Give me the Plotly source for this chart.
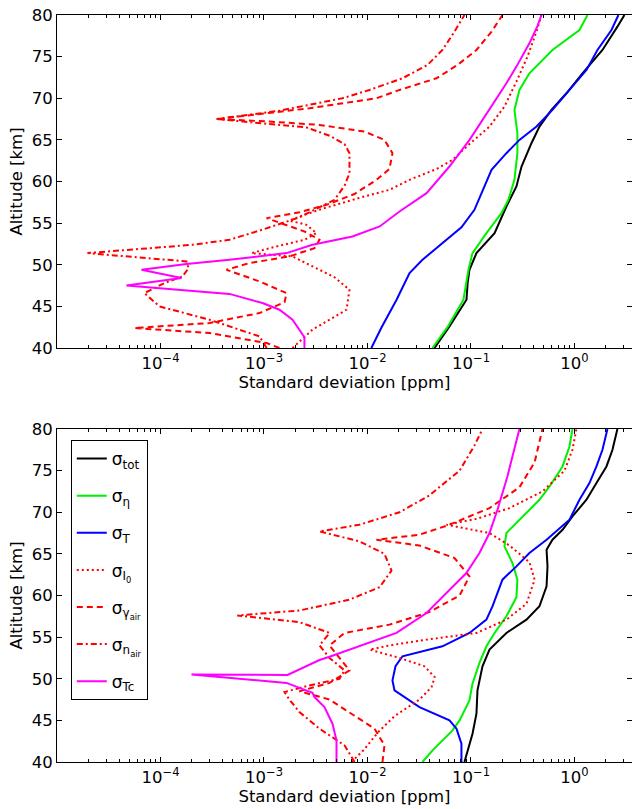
import plotly.graph_objects as go

# ---------------- TOP PANEL ----------------
top_tot_alt = [40, 42.6, 45.8, 47.9, 49.4, 51.4, 53.8, 57.0, 59.4, 61.8, 64.6, 66.6, 68.6, 70.6, 73.0, 75.8, 78.6, 80]
top_tot = [0.0444, 0.062, 0.0905, 0.093, 0.0967, 0.113, 0.169, 0.220, 0.275, 0.308, 0.384, 0.459, 0.599, 0.837, 1.195, 1.865, 2.60, 3.04]

top_eta_alt = [40, 42.6, 45.8, 49.4, 51.4, 53.8, 56.2, 57.8, 60.2, 63.4, 65.8, 68.6, 71.0, 73.0, 75.8, 78.2, 80]
top_eta = [0.0425, 0.060, 0.0846, 0.0946, 0.1034, 0.141, 0.197, 0.230, 0.263, 0.281, 0.281, 0.263, 0.294, 0.367, 0.613, 1.118, 1.335]

top_T_alt = [40, 42.5, 45.8, 49.0, 50.6, 53.0, 54.5, 56.6, 59.3, 61.4, 63.4, 65.0, 66.6, 68.6, 71.0, 73.4, 75.8, 78.2, 80]
top_T = [0.0109, 0.0137, 0.0191, 0.0255, 0.0340, 0.0580, 0.0809, 0.108, 0.135, 0.158, 0.220, 0.294, 0.430, 0.613, 0.895, 1.306, 1.668, 2.278, 2.66]

top_I0_alt = [40, 42.2, 44.6, 47.0, 48.5, 50.0, 51.0, 51.4, 52.2, 53.0, 53.8, 54.8, 55.3, 56.0, 56.8, 58.2, 59.0, 60.2, 61.5, 62.6, 64.5, 66.6, 69.0, 72.0, 75.0, 78.0, 80]
top_I0 = [0.001886, 0.00294, 0.00627, 0.0067, 0.0048, 0.00275, 0.001886, 0.000757, 0.00132, 0.00246, 0.00322, 0.00257, 0.00176, 0.00246, 0.00384, 0.0093, 0.0163, 0.0255, 0.0464, 0.0663, 0.0967, 0.151, 0.2107, 0.275, 0.3515, 0.4295, 0.48]

top_gam_alt = [40, 40.6, 41.8, 42.4, 43.0, 44.2, 45.5, 46.6, 48.0, 49.4, 50.2, 51.0, 52.0, 53.0, 54.0, 55.0, 55.6, 56.3, 57.2, 58.5, 60.2, 61.5, 63.4, 65.0, 66.0, 66.8, 67.2, 67.5, 68.2, 68.8, 70.0, 71.0, 72.4, 74.0, 75.8, 78.0, 80]
top_gam = [0.00141, 0.00106, 0.000297, 0.0000561, 0.000297, 0.000904, 0.00158, 0.00165, 0.000904, 0.000434, 0.000724, 0.00176, 0.00308, 0.00344, 0.00246, 0.00141, 0.00106, 0.0022, 0.00402, 0.00749, 0.01222, 0.0163, 0.01744, 0.0146, 0.00935, 0.00344, 0.00113, 0.000348, 0.00113, 0.00275, 0.01222, 0.0204, 0.0464, 0.0741, 0.113, 0.158, 0.2015]

top_nair_alt = [40, 41.4, 43.4, 45.0, 46.6, 47.8, 48.6, 49.6, 50.4, 51.4, 52.4, 53.0, 54.1, 55.7, 57.8, 59.5, 61.0, 63.4, 64.5, 65.5, 66.5, 67.0, 67.5, 68.5, 69.2, 70.0, 71.0, 72.4, 74.0, 75.8, 78.0, 80]
top_nair = [0.00106, 0.000904, 0.000297, 0.0000978, 0.000070, 0.000109, 0.000163, 0.000187, 0.000178, 0.0000197, 0.000204, 0.000464, 0.000904, 0.0022, 0.0048, 0.006, 0.0067, 0.0067, 0.006, 0.0043, 0.00257, 0.000904, 0.000348, 0.00141, 0.00275, 0.00573, 0.01045, 0.0218, 0.038, 0.053, 0.0693, 0.0865]

top_Tc_alt = [40, 41.3, 43.4, 44.6, 45.4, 46.5, 47.5, 48.4, 49.4, 50.1, 50.6, 51.4, 52.4, 53.4, 54.6, 56.4, 58.6, 61.8, 65.0, 68.6, 71.8, 73.8, 76.6, 78.7, 80]
top_Tc = [0.00246, 0.00246, 0.001886, 0.001412, 0.000967, 0.000464, 0.0000469, 0.0001596, 0.0000655, 0.0001784, 0.000464, 0.00165, 0.00294, 0.00716, 0.0131, 0.0204, 0.0372, 0.0619, 0.0969, 0.151, 0.220, 0.275, 0.367, 0.440, 0.480]

# ---------------- BOTTOM PANEL ----------------
bot_tot_alt = [40, 43.4, 45.8, 48.6, 51.5, 53.5, 55.5, 57.1, 58.7, 61.1, 63.5, 65.5, 66.7, 67.9, 69.5, 71.5, 73.5, 75.5, 77.5, 80]
bot_tot = [0.0865, 0.1035, 0.113, 0.1156, 0.1292, 0.151, 0.220, 0.3437, 0.459, 0.5375, 0.549, 0.5375, 0.613, 0.767, 0.956, 1.306, 1.631, 2.038, 2.33, 2.60]

bot_eta_alt = [40, 41.4, 43.8, 45.0, 47.4, 49.4, 51.9, 53.9, 55.5, 57.5, 59.8, 61.9, 63.9, 65.9, 67.5, 69.1, 71.5, 73.1, 75.5, 77.9, 80]
bot_eta = [0.0340, 0.0425, 0.0663, 0.0776, 0.0967, 0.1034, 0.1208, 0.141, 0.169, 0.220, 0.275, 0.281, 0.2517, 0.2107, 0.220, 0.294, 0.459, 0.5745, 0.767, 0.895, 0.956]

bot_T_alt = [40, 42.2, 44.0, 45.0, 46.6, 48.6, 49.8, 51.5, 52.7, 53.9, 55.5, 57.1, 58.7, 60.2, 61.9, 63.5, 65.1, 66.7, 69.1, 71.5, 73.5, 75.5, 77.5, 80]
bot_T = [0.0809, 0.0809, 0.0725, 0.062, 0.0318, 0.01824, 0.01744, 0.01866, 0.0218, 0.053, 0.0967, 0.141, 0.1613, 0.1803, 0.2015, 0.275, 0.367, 0.5375, 0.895, 1.118, 1.396, 1.631, 1.865, 2.084]

bot_I0_alt = [40, 41.5, 43.5, 45.5, 47.5, 49.0, 50.2, 51.5, 52.5, 53.5, 54.0, 54.7, 55.5, 57.1, 59.0, 61.9, 64.0, 66.0, 67.5, 68.5, 69.2, 70.5, 72.5, 75.0, 77.5, 80]
bot_I0 = [0.00701, 0.0093, 0.0125, 0.0182, 0.0318, 0.0416, 0.0446, 0.0355, 0.0204, 0.0105, 0.0163, 0.0372, 0.113, 0.220, 0.3437, 0.412, 0.367, 0.2357, 0.151, 0.058, 0.113, 0.2357, 0.491, 0.802, 0.956, 1.045]

bot_gam_alt = [40, 42, 44, 46, 47.5, 48.5, 49.5, 51, 52.5, 54, 55.5, 56.5, 58, 60, 62.3, 64.5, 66.0, 66.7, 67.3, 68.5, 70.5, 73, 76, 80]
bot_gam = [0.01396, 0.0146, 0.0117, 0.0067, 0.0043, 0.0022, 0.0043, 0.0067, 0.00536, 0.0043, 0.006, 0.0163, 0.0394, 0.0776, 0.0967, 0.0693, 0.0318, 0.01222, 0.0318, 0.062, 0.151, 0.294, 0.412, 0.491]

bot_nair_alt = [40, 42, 44, 46, 47.5, 48.4, 49.2, 50, 51, 52.5, 54, 55.5, 56.8, 57.6, 58.2, 59.5, 61, 63, 65, 66.5, 67.7, 68.5, 70, 72, 75, 78, 80]
bot_nair = [0.0075, 0.006, 0.00344, 0.0022, 0.00176, 0.00158, 0.00275, 0.00536, 0.006, 0.0043, 0.00344, 0.0043, 0.0022, 0.000552, 0.0022, 0.0067, 0.0131, 0.01707, 0.0146, 0.00837, 0.00344, 0.00837, 0.0204, 0.0394, 0.0776, 0.108, 0.1292]

bot_Tc_alt = [40, 42.6, 44.6, 46.6, 47.8, 48.3, 49.5, 50.5, 50.45, 51.3, 52.25, 52.65, 53.9, 55.5, 57.9, 60.3, 62.7, 65.1, 67.5, 70.3, 71.9, 74.3, 76.7, 80]
bot_Tc = [0.00502, 0.00502, 0.00459, 0.00384, 0.00308, 0.00294, 0.00165, 0.0001993, 0.00169, 0.00237, 0.00344, 0.0043, 0.00837, 0.01906, 0.0372, 0.058, 0.0903, 0.1208, 0.151, 0.1803, 0.197, 0.225, 0.2517, 0.294]

tick_vals = [1e-4, 1e-3, 1e-2, 1e-1, 1]
tick_text = ["10<sup>\u22124</sup>", "10<sup>\u22123</sup>", "10<sup>\u22122</sup>", "10<sup>\u22121</sup>", "10<sup>0</sup>"]
minor_vals = [m * 10.0 ** k for k in range(-5, 1) for m in range(2, 10)]

names = ["\u03c3<sub>tot</sub>", "\u03c3<sub>\u03b7</sub>", "\u03c3<sub>T</sub>",
         "\u03c3<sub>I<sub>0</sub></sub>", "\u03c3<sub>\u03b3<sub>air</sub></sub>",
         "\u03c3<sub>n<sub>air</sub></sub>", "\u03c3<sub>Tc</sub>"]
colors = ["#000000", "#00f000", "#0000ff", "#ff0000", "#ff0000", "#ff0000", "#ff00ff"]
dashes = ["solid", "solid", "solid", "2px,3px", "6px,4px", "6px,3px,2px,3px", "solid"]

top_series = [(top_tot, top_tot_alt), (top_eta, top_eta_alt), (top_T, top_T_alt), (top_I0, top_I0_alt),
              (top_gam, top_gam_alt), (top_nair, top_nair_alt), (top_Tc, top_Tc_alt)]
bot_series = [(bot_tot, bot_tot_alt), (bot_eta, bot_eta_alt), (bot_T, bot_T_alt), (bot_I0, bot_I0_alt),
              (bot_gam, bot_gam_alt), (bot_nair, bot_nair_alt), (bot_Tc, bot_Tc_alt)]

fig = go.Figure()
for i, (xv, yv) in enumerate(top_series):
    fig.add_trace(go.Scatter(x=xv, y=yv, mode="lines", xaxis="x", yaxis="y",
                             line=dict(color=colors[i], width=2, dash=dashes[i]),
                             showlegend=False, hoverinfo="skip"))
for i, (xv, yv) in enumerate(bot_series):
    fig.add_trace(go.Scatter(x=xv, y=yv, mode="lines", xaxis="x2", yaxis="y2",
                             line=dict(color=colors[i], width=2, dash=dashes[i]),
                             name=names[i], legendgroup="g%d" % i, showlegend=True))

FAM = "DejaVu Sans, Liberation Sans, Arial, sans-serif"
font_main = dict(family=FAM, size=16.5, color="#000000")

def xaxis_cfg(anchor):
    return dict(type="log", range=[-5, 0.556], anchor=anchor, automargin=False,
                tickmode="array", tickvals=tick_vals, ticktext=tick_text,
                ticks="inside", ticklen=5, tickcolor="#000000",
                minor=dict(tickmode="array", tickvals=minor_vals, ticks="inside", ticklen=3,
                           tickcolor="#000000", showgrid=False),
                showline=True, linecolor="#000000", linewidth=1, mirror="ticks",
                showgrid=False, zeroline=False, tickfont=font_main,
                title=dict(text="Standard deviation [ppm]", font=font_main, standoff=0))

def yaxis_cfg(anchor, domain):
    return dict(range=[40, 80], domain=domain, anchor=anchor, dtick=5, tick0=40, automargin=False,
                ticks="inside", ticklen=5, tickcolor="#000000",
                showline=True, linecolor="#000000", linewidth=1, mirror="ticks",
                showgrid=False, zeroline=False, tickfont=font_main,
                title=dict(text="Altitude [km]", font=font_main, standoff=4))

fig.update_layout(
    width=632, height=809,
    margin=dict(l=57, r=0, t=15, b=47, autoexpand=False),
    paper_bgcolor="#ffffff", plot_bgcolor="#ffffff",
    font=font_main,
    xaxis=xaxis_cfg("y"),
    yaxis=yaxis_cfg("x", [0.5542, 1.0]),
    xaxis2=xaxis_cfg("y2"),
    yaxis2=yaxis_cfg("x2", [0.0, 0.4458]),
    legend=dict(x=0.024, y=0.431, xanchor="left", yanchor="top",
                bordercolor="#000000", borderwidth=1, bgcolor="#ffffff",
                traceorder="grouped", tracegroupgap=12, itemwidth=30,
                font=dict(family=FAM, size=17, color="#000000")),
    showlegend=True,
)

fig.write_html("out.html", config={"displayModeBar": False},
               post_script="document.body.style.margin='0';document.body.style.overflow='hidden';")
